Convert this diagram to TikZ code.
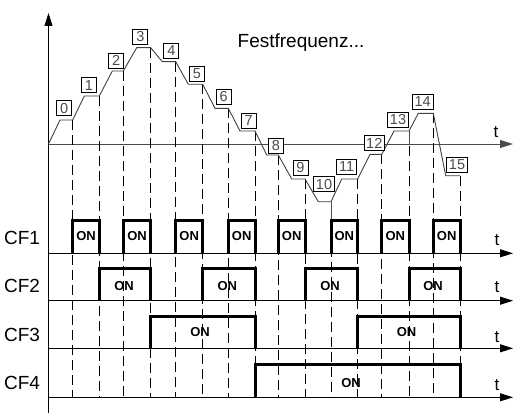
\documentclass[tikz,border=0pt]{standalone}
\usepackage{fontspec}
\setmainfont{Liberation Sans}
\usetikzlibrary{arrows.meta}
\tikzset{
  numbox/.style={draw=black, fill=white, text=black!70, line width=0.8pt,
    font=\fontsize{14.5}{14.5}\selectfont, inner xsep=2.3pt, inner ysep=0pt,
    minimum width=15pt, minimum height=15pt},
  onlabel/.style={font=\fontsize{13}{13}\selectfont\bfseries},
  cflabel/.style={font=\fontsize{19}{19}\selectfont, anchor=east},
  tlabel/.style={font=\fontsize{17}{17}\selectfont},
  pulse/.style={line width=3pt, line join=miter},
  guide/.style={dash pattern=on 10pt off 5pt, line width=0.8pt},
}
\begin{document}
\begin{tikzpicture}[x=1pt, y=-1pt, >={Triangle[length=13pt,width=8pt]}]
\useasboundingbox (0,0) rectangle (526,417);

% axes
\draw[->, line width=0.9pt] (48.5,413) -- (48.5,13);
\draw[->, black!70, line width=0.9pt] (48.5,144) -- (513,144);
\node[tlabel] (t0) at (496,132) {t};
\node[font=\fontsize{19}{19}\selectfont] (title) at (301,43) {Festfrequenz...};

% guide lines
\draw[guide] (72.7,120) -- (72.7,397);
\draw[guide] (99.3,96) -- (99.3,397);
\draw[guide] (123.3,71) -- (123.3,397);
\draw[guide] (150.7,47.7) -- (150.7,397);
\draw[guide] (175.7,61.7) -- (175.7,397);
\draw[guide] (202.7,84.3) -- (202.7,397);
\draw[guide] (228.3,108.3) -- (228.3,397);
\draw[guide] (255,131) -- (255,397);
\draw[guide] (278.3,155) -- (278.3,397);
\draw[guide] (305,179) -- (305,397);
\draw[guide] (331,201.7) -- (331,397);
\draw[guide] (357.7,179) -- (357.7,397);
\draw[guide] (381.7,154.3) -- (381.7,397);
\draw[guide] (409,131) -- (409,397);
\draw[guide] (433.3,113.3) -- (433.3,397);
\draw[guide] (460,175.7) -- (460,397);
\draw[black!70, line width=0.9pt] (331,201.7) -- (331,220);
\draw[black!70, line width=0.9pt] (409,131) -- (409,144);

% frequency curve
\draw[black!75, line width=0.9pt] (48.5,144) -- (60,120) -- (72.7,120)
  -- (84.3,96) -- (99.3,96) -- (112.3,71) -- (123.3,71)
  -- (136.7,47.7) -- (150.7,47.7) -- (162.3,61.7) -- (175.7,61.7)
  -- (188.3,84.3) -- (202.7,84.3) -- (215,108.3) -- (228.3,108.3)
  -- (240,131) -- (255,131) -- (266.7,155) -- (278.3,155)
  -- (291.7,179) -- (305,179) -- (318.3,201.7) -- (331,201.7)
  -- (341.7,179) -- (357.7,179) -- (370,154.3) -- (381.7,154.3)
  -- (394,131) -- (409,131) -- (418.3,113.3) -- (433.3,113.3)
  -- (445.7,175.7) -- (460,175.7);

% fixed frequencies
\node[numbox] (f0) at (64.2,108.3) {0};
\node[numbox] (f1) at (89,85.3) {1};
\node[numbox] (f2) at (116.2,60.5) {2};
\node[numbox] (f3) at (140.3,36.8) {3};
\node[numbox] (f4) at (171.3,50.8) {4};
\node[numbox] (f5) at (196.8,73.5) {5};
\node[numbox] (f6) at (223.7,96.7) {6};
\node[numbox] (f7) at (248.7,120.5) {7};
\node[numbox] (f8) at (275.8,145.5) {8};
\node[numbox] (f9) at (300.5,167.5) {9};
\node[numbox] (f10) at (324,184.2) {10};
\node[numbox] (f11) at (346.7,166.8) {11};
\node[numbox] (f12) at (374.3,143.3) {12};
\node[numbox] (f13) at (398,119.7) {13};
\node[numbox] (f14) at (422.7,101.7) {14};
\node[numbox] (f15) at (457,164.7) {15};

% control inputs
\node[cflabel] (cf1) at (43.5,238.3) {CF1};
\node[cflabel] (cf2) at (43.5,286) {CF2};
\node[cflabel] (cf3) at (43.5,335) {CF3};
\node[cflabel] (cf4) at (43.5,383.3) {CF4};

\draw[->, line width=0.9pt] (48.5,253.3) -- (513,253.3);
\draw[->, line width=0.9pt] (48.5,300.7) -- (513,300.7);
\draw[->, line width=0.9pt] (48.5,348.3) -- (513,348.3);
\draw[->, line width=0.9pt] (48.5,397.3) -- (513,397.3);
\node[tlabel] (t1) at (497,240) {t};
\node[tlabel] (t2) at (497,287) {t};
\node[tlabel] (t3) at (497,337) {t};
\node[tlabel] (t4) at (497,385.5) {t};

% CF1
\draw[pulse] (72.7,253.3) -- (72.7,220) -- (99.3,220) -- (99.3,253.3);
\draw[pulse] (123.3,253.3) -- (123.3,220) -- (150.7,220) -- (150.7,253.3);
\draw[pulse] (175.7,253.3) -- (175.7,220) -- (202.7,220) -- (202.7,253.3);
\draw[pulse] (228.3,253.3) -- (228.3,220) -- (255,220) -- (255,253.3);
\draw[pulse] (278.3,253.3) -- (278.3,220) -- (305,220) -- (305,253.3);
\draw[pulse] (331,253.3) -- (331,220) -- (357.7,220) -- (357.7,253.3);
\draw[pulse] (381.7,253.3) -- (381.7,220) -- (409,220) -- (409,253.3);
\draw[pulse] (433.3,253.3) -- (433.3,220) -- (460,220) -- (460,253.3);
\node[onlabel] (on11) at (86,236) {ON};
\node[onlabel] (on12) at (137,236) {ON};
\node[onlabel] (on13) at (189.2,236) {ON};
\node[onlabel] (on14) at (241.7,236) {ON};
\node[onlabel] (on15) at (291.7,236) {ON};
\node[onlabel] (on16) at (344.3,236) {ON};
\node[onlabel] (on17) at (395.3,236) {ON};
\node[onlabel] (on18) at (446.7,236) {ON};

% CF2
\draw[pulse] (99.3,300.7) -- (99.3,268.3) -- (150.7,268.3) -- (150.7,300.7);
\draw[pulse] (202.7,300.7) -- (202.7,268.3) -- (255,268.3) -- (255,300.7);
\draw[pulse] (305,300.7) -- (305,268.3) -- (357.7,268.3) -- (357.7,300.7);
\draw[pulse] (409,300.7) -- (409,268.3) -- (460,268.3) -- (460,300.7);
\node[onlabel] (on21) at (124,286) {ON};
\node[onlabel] (on22) at (227.3,286) {ON};
\node[onlabel] (on23) at (330,286) {ON};
\node[onlabel] (on24) at (433,286) {ON};

% CF3
\draw[pulse] (150.7,348.3) -- (150.7,316) -- (255,316) -- (255,348.3);
\draw[pulse] (357.7,348.3) -- (357.7,316) -- (460,316) -- (460,348.3);
\node[onlabel] (on31) at (200,332) {ON};
\node[onlabel] (on32) at (406.5,332) {ON};

% CF4
\draw[pulse] (255,397.3) -- (255,364.3) -- (460,364.3) -- (460,397.3);
\node[onlabel] (on41) at (351,383) {ON};
\end{tikzpicture}
\end{document}
